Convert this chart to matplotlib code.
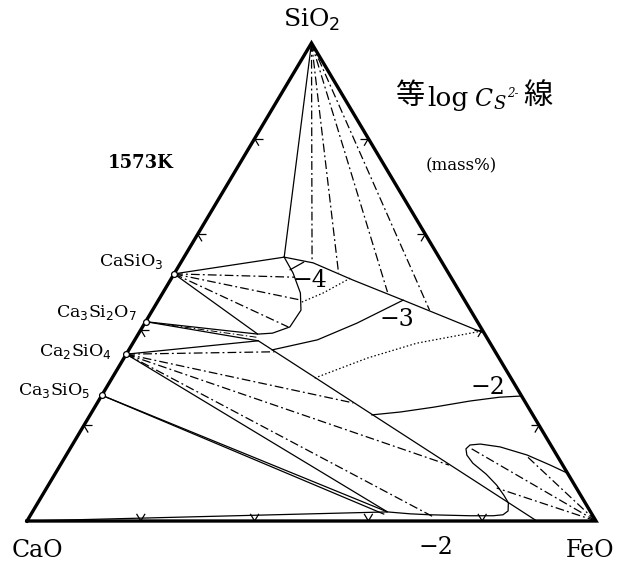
import matplotlib.pyplot as plt
import numpy as np

plt.rcParams['font.family'] = ['DejaVu Serif']

# All compositions in mass%, written as (FeO, SiO2); CaO is the balance.
compound_labels = ['CaSiO$_3$', 'Ca$_3$Si$_2$O$_7$', 'Ca$_2$SiO$_4$', 'Ca$_3$SiO$_5$']
compound_sio2 = [51.7, 41.7, 34.9, 26.3]

# liquid at the corners of the three-phase fields
liq_sio2_casio3 = (17.6, 55.2)
liq_c3s2_upper = (21.0, 39.1)
liq_c3s2_lower = (21.8, 37.7)
liq_lime = (62.4, 1.9)

# saturation boundaries of the liquid
sio2_sat_feo = [17.6, 23.3, 32.1, 43.0, 60.7]
sio2_sat_sio2 = [55.2, 54.0, 50.4, 46.2, 39.3]
casio3_sat_feo = [17.6, 20.8, 24.2, 26.1, 25.9, 23.5, 21.0]
casio3_sat_sio2 = [55.2, 51.9, 47.7, 44.1, 40.6, 39.3, 39.1]
c2s_sat_feo = [21.8, 89.6]
c2s_sat_sio2 = [37.7, 0.0]
feo_loop_feo = [62.4, 66.6, 70.2, 77.3, 81.4, 83.0, 83.5, 82.7, 81.1, 78.8, 75.8,
                72.3, 70.4, 69.6, 69.9, 71.6, 75.4, 81.0, 86.1, 90.0]
feo_loop_sio2 = [1.9, 1.5, 1.3, 1.1, 1.1, 1.3, 2.1, 3.8, 5.4, 7.5, 9.8,
                 12.1, 13.8, 15.1, 15.9, 16.1, 15.5, 13.8, 11.7, 10.0]
casio3_stub = [(19.9, 52.5), (21.6, 54.2)]

# tie-line ends on the liquidus
ties_sio2 = [(23.1, 54.0), (28.8, 51.9), (39.4, 47.9), (48.7, 44.1)]
ties_casio3 = [(21.6, 51.0), (25.1, 46.2), (25.6, 40.6)]
ties_c2s = [(25.8, 35.4), (45.0, 24.7), (68.3, 11.7), (70.7, 1.0)]
ties_feo = [(70.2, 15.3), (81.0, 13.6), (79.1, 6.9)]

# iso-logCs lines: (label, FeO, SiO2, style)
iso_lines = [
    ('-4', [25.4, 28.2, 31.4], [45.8, 47.7, 50.8], 'dotted'),
    ('-3', [25.2, 32.1, 37.3, 43.0], [35.8, 37.9, 41.4, 46.2], 'solid'),
    ('-2.5', [35.6, 42.8, 49.9, 59.9], [29.9, 34.1, 37.2, 39.7], 'dotted'),
    ('-2', [49.5, 54.2, 59.5, 65.3, 70.1, 73.85], [22.2, 22.8, 23.8, 25.1, 25.9, 26.15], 'solid'),
]
tick_values = [20, 40, 60, 80]

DASHDOT = (0, (7, 2.5, 1.5, 2.5))
DOTTED = (0, (1.2, 1.8))
LW = 0.9


def tern(feo, sio2):
    feo = np.asarray(feo, dtype=float)
    sio2 = np.asarray(sio2, dtype=float)
    return feo + sio2 / 2.0, sio2


def seg(ax, a, b, **kw):
    x, y = tern([a[0], b[0]], [a[1], b[1]])
    ax.plot(x, y, color='black', lw=kw.pop('lw', LW), solid_capstyle='butt', **kw)


fig = plt.figure(figsize=(6.21, 5.65), dpi=100)
ax = fig.add_axes([27 / 621, 44 / 565, 569 / 621, 478 / 565])
ax.set_xlim(0, 100)
ax.set_ylim(0, 100)
ax.axis('off')

apex = (0.0, 100.0)
cao = (0.0, 0.0)
feo_c = (100.0, 0.0)
compounds = [(0.0, v) for v in compound_sio2]

# triangle frame
fx, fy = tern([0, 100, 0, 0], [0, 0, 100, 0])
ax.plot(fx, fy, color='black', lw=2.4, solid_joinstyle='miter', zorder=5, clip_on=False)

# chevron ticks on each side
d = 1.5
for v in tick_values:
    # CaO-SiO2 side
    p = (0.0, v)
    seg(ax, p, (d, v))
    seg(ax, p, (d, v - d))
    # CaO-FeO side
    p = (v, 0.0)
    seg(ax, p, (v - d, d))
    seg(ax, p, (v, d))
    # SiO2-FeO side
    p = (100.0 - v, v)
    seg(ax, p, (100.0 - v - d, v))
    seg(ax, p, (100.0 - v, v - d))

# saturation boundaries
for fe, si in [(sio2_sat_feo, sio2_sat_sio2), (casio3_sat_feo, casio3_sat_sio2),
               (c2s_sat_feo, c2s_sat_sio2), (feo_loop_feo, feo_loop_sio2)]:
    x, y = tern(fe, si)
    ax.plot(x, y, color='black', lw=LW)
seg(ax, *casio3_stub)

# three-phase triangles and two-phase boundaries
seg(ax, apex, liq_sio2_casio3)
seg(ax, compounds[0], liq_sio2_casio3)
seg(ax, compounds[0], liq_c3s2_upper)
seg(ax, compounds[1], liq_c3s2_upper)
seg(ax, compounds[1], liq_c3s2_lower)
seg(ax, compounds[2], liq_c3s2_lower)
seg(ax, compounds[2], liq_lime)
seg(ax, compounds[3], liq_lime)
seg(ax, compounds[3], (liq_lime[0] - 0.3, liq_lime[1] - 0.5))
seg(ax, cao, liq_lime)

# tie lines
mid = ((liq_c3s2_upper[0] + liq_c3s2_lower[0]) / 2, (liq_c3s2_upper[1] + liq_c3s2_lower[1]) / 2)
seg(ax, compounds[1], mid, ls=DASHDOT, lw=0.7)
for e in ties_sio2:
    seg(ax, apex, e, ls=DASHDOT)
for e in ties_casio3:
    seg(ax, compounds[0], e, ls=DASHDOT)
for e in ties_c2s:
    seg(ax, compounds[2], e, ls=DASHDOT)
for e in ties_feo:
    seg(ax, feo_c, e, ls=DASHDOT)

# iso-logCs lines
for label, fe, si, style in iso_lines:
    x, y = tern(fe, si)
    ax.plot(x, y, color='black', lw=LW, ls=DOTTED if style == 'dotted' else '-')

# compound points
cx, cy = tern([c[0] for c in compounds], [c[1] for c in compounds])
ax.plot(cx, cy, 'o', ms=4.2, mfc='white', mec='black', mew=0.9, zorder=6, clip_on=False)

# compound labels
label_pos = [(23.9, 54.2), (19.3, 43.7), (14.9, 35.4), (11.1, 27.4)]
for name, (lx, ly) in zip(compound_labels, label_pos):
    ax.text(lx, ly, name, ha='right', va='center', fontsize=12.5, clip_on=False)

# corner labels
ax.text(50.0, 104.8, 'SiO$_2$', ha='center', va='center', fontsize=18, clip_on=False)
ax.text(1.8, -6.1, 'CaO', ha='center', va='center', fontsize=17, clip_on=False)
ax.text(98.9, -6.1, 'FeO', ha='center', va='center', fontsize=17, clip_on=False)

# iso-line values
for txt, lx, ly in [('−4', 49.7, 50.4), ('−3', 65.0, 42.1), ('−2', 81.0, 28.0), ('−2', 71.9, -5.6)]:
    ax.text(lx, ly, txt, ha='center', va='center', fontsize=17, clip_on=False)

ax.text(20.0, 74.9, '1573K', ha='center', va='center', fontsize=13, fontweight='bold', clip_on=False)
ax.text(76.4, 74.3, '(mass%)', ha='center', va='center', fontsize=12, clip_on=False)

# heading: 等logCs2-線
W, H = 621.0, 565.0
cjk = ['Noto Sans CJK JP', 'DejaVu Serif']
fig.text(410 / W, 1 - 96 / H, '等', family=cjk, fontsize=21, ha='center', va='center')
fig.text(427 / W, 1 - 106 / H, 'log', fontsize=19, ha='left', va='baseline')
fig.text(474 / W, 1 - 106 / H, 'C', fontsize=17, style='italic', ha='left', va='baseline')
fig.text(493 / W, 1 - 109 / H, 'S', fontsize=13, style='italic', ha='left', va='baseline')
fig.text(507 / W, 1 - 97 / H, '2-', fontsize=8.5, style='italic', ha='left', va='baseline')
fig.text(538 / W, 1 - 96 / H, '線', family=cjk, fontsize=21, ha='center', va='center')

fig.savefig('out.png', dpi=100)
